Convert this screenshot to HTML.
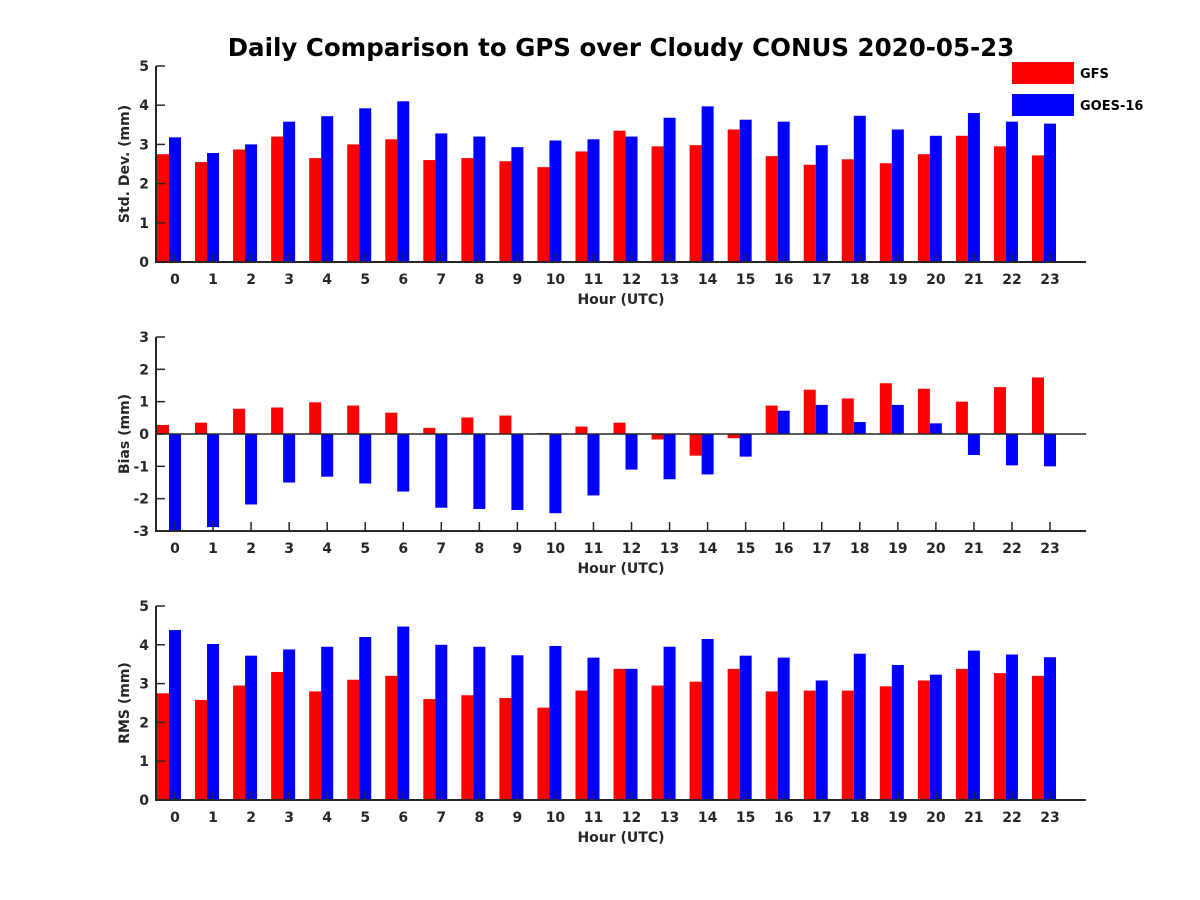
<!DOCTYPE html>
<html><head><meta charset="utf-8"><style>html,body{margin:0;padding:0;background:#fff}svg{display:block;font-family:"DejaVu Sans","Liberation Sans",sans-serif}</style></head>
<body>
<svg id="chart" width="1200" height="900" viewBox="0 0 1200 900" xmlns="http://www.w3.org/2000/svg">
<rect width="1200" height="900" fill="#fff"/>
<text x="621" y="56" text-anchor="middle" font-size="24.5" font-weight="bold" fill="#000">Daily Comparison to GPS over Cloudy CONUS 2020-05-23</text>
<g>
<rect x="1012" y="62" width="62" height="22" fill="#ff0000"/>
<text x="1080" y="78" font-size="13" font-weight="bold">GFS</text>
<rect x="1012" y="94" width="62" height="22" fill="#0000ff"/>
<text x="1080" y="110" font-size="13" font-weight="bold">GOES-16</text>
</g>
</svg>
<script>
const hours = ["0","1","2","3","4","5","6","7","8","9","10","11","12","13","14","15","16","17","18","19","20","21","22","23"];
const stdGFS = [2.75,2.55,2.87,3.2,2.65,3.0,3.13,2.6,2.65,2.57,2.42,2.82,3.35,2.95,2.98,3.38,2.7,2.48,2.62,2.52,2.75,3.22,2.95,2.72];
const stdGOES = [3.18,2.78,3.0,3.58,3.72,3.92,4.1,3.28,3.2,2.93,3.1,3.13,3.2,3.68,3.97,3.63,3.58,2.98,3.73,3.38,3.22,3.8,3.58,3.53];
const biasGFS = [0.28,0.35,0.78,0.82,0.98,0.88,0.66,0.19,0.51,0.57,0.03,0.23,0.35,-0.17,-0.67,-0.13,0.88,1.37,1.1,1.57,1.4,1.0,1.45,1.75];
const biasGOES = [-3.0,-2.88,-2.18,-1.5,-1.32,-1.53,-1.78,-2.28,-2.32,-2.35,-2.45,-1.9,-1.1,-1.4,-1.25,-0.7,0.72,0.9,0.37,0.9,0.33,-0.65,-0.97,-1.0];
const rmsGFS = [2.75,2.58,2.95,3.3,2.8,3.1,3.2,2.6,2.7,2.63,2.38,2.82,3.38,2.95,3.05,3.38,2.8,2.82,2.82,2.93,3.08,3.38,3.27,3.2];
const rmsGOES = [4.38,4.02,3.72,3.88,3.95,4.2,4.47,4.0,3.95,3.73,3.97,3.67,3.38,3.95,4.15,3.72,3.67,3.08,3.77,3.48,3.23,3.85,3.75,3.68];
const stdTicks = ["0","1","2","3","4","5"];
const biasTicks = ["-3","-2","-1","0","1","2","3"];
const rmsTicks = ["0","1","2","3","4","5"];

const NS = "http://www.w3.org/2000/svg";
const svg = document.getElementById('chart');
function mk(tag, attrs, parent){const e=document.createElementNS(NS,tag);for(const k in attrs)e.setAttribute(k,attrs[k]);(parent||svg).appendChild(e);return e;}

function panel(key, top, bottom, ymin, ymax, ticks, gfs, goes, ylabel){
  const L=156, R=1086;
  const g = mk('g',{});
  
  
  const y = v => bottom - (v - ymin) / (ymax - ymin) * (bottom - top);
  const step = (1050 - 175) / (hours.length - 1);
  const x = i => 175 + i * step;
  const bw = 12;
  hours.forEach((h,i)=>{
    const c = x(i) - 6;
    const y0=y(0), yr=y(gfs[i]), yb=y(goes[i]);
    const r = mk('rect',{x:c-bw,y:Math.min(y0,yr),width:bw,height:Math.abs(y0-yr),fill:'#ff0000'},g);
    
    
    const b = mk('rect',{x:c,y:Math.min(y0,yb),width:bw,height:Math.abs(y0-yb),fill:'#0000ff'},g);
    
    
  });
  if (ymin < 0) {
    const z = mk('line',{x1:L,x2:R,y1:y(0),y2:y(0),stroke:'#262626','stroke-width':1.5},g);
    
    
  }
  const ax = mk('path',{d:`M${L},${top} L${L},${bottom} L${R},${bottom}`,fill:'none',stroke:'#262626','stroke-width':2},g);
  
  
  ticks.forEach(t=>{
    const v=parseFloat(t), yy=y(v);
    mk('line',{x1:L,x2:L+9,y1:yy,y2:yy,stroke:'#262626','stroke-width':1.5},g);
    const tl = mk('text',{x:L-7,y:yy+5,'text-anchor':'end','font-size':14,'font-weight':'bold',fill:'#262626'},g);
    tl.textContent=t;
    
    
  });
  hours.forEach((h,i)=>{
    mk('line',{x1:x(i),x2:x(i),y1:bottom,y2:bottom-9,stroke:'#262626','stroke-width':1.5},g);
    const tl = mk('text',{x:x(i),y:bottom+22,'text-anchor':'middle','font-size':14,'font-weight':'bold',fill:'#262626'},g);
    tl.textContent=h;
    
    
  });
  const xt = mk('text',{x:621,y:bottom+42,'text-anchor':'middle','font-size':14,'font-weight':'bold',fill:'#262626'},g);
  xt.textContent='Hour (UTC)';
  
  
  const cy=(top+bottom)/2;
  const yt = mk('text',{x:0,y:0,transform:`translate(129,${cy}) rotate(-90)`,'text-anchor':'middle','font-size':14,'font-weight':'bold',fill:'#262626'},g);
  yt.textContent=ylabel;
  
  
}
panel('std', 66, 262, 0, 5, stdTicks, stdGFS, stdGOES, 'Std. Dev. (mm)');
panel('bias', 337, 531, -3, 3, biasTicks, biasGFS, biasGOES, 'Bias (mm)');
panel('rms', 606, 800, 0, 5, rmsTicks, rmsGFS, rmsGOES, 'RMS (mm)');
</script>
</body></html>
